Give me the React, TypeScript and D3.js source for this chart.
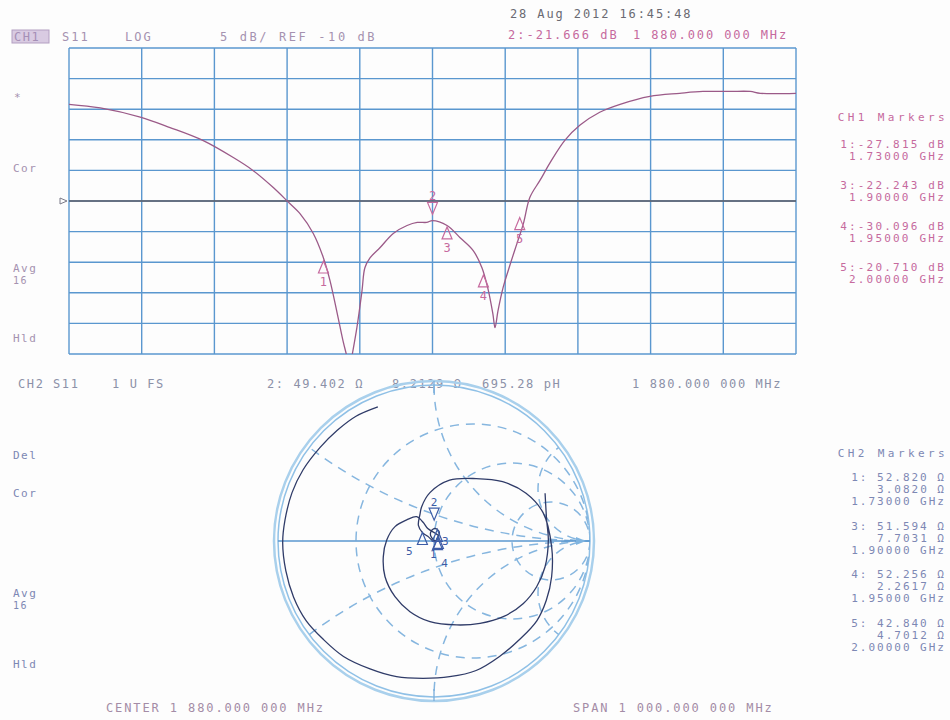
import React from "react";
import * as d3 from "d3";

// CH1: S11 log magnitude, frequency in MHz, level in dB
const ch1Freq = [
  1380, 1423, 1478, 1519, 1564, 1606, 1633, 1661, 1681, 1698, 1716, 1730, 1739, 1749, 1757, 1762,
  1766, 1769, 1776, 1783, 1787, 1794, 1808, 1826, 1845, 1859, 1872, 1880, 1900, 1918, 1936, 1948,
  1956, 1963, 1966, 1970, 1977, 1987, 1996, 2005, 2014, 2028, 2042, 2062, 2083, 2110, 2138, 2179,
  2220, 2252, 2289, 2317, 2331, 2380,
];
const ch1Db = [
  -2.7, -3.3, -4.8, -6.5, -8.6, -11.4, -13.5, -16.3, -18.6, -20.6, -23.8, -27.8, -31.5, -36.9, -41.4, -43.8,
  -46.0, -44.0, -39.2, -33.2, -29.4, -27.8, -26.1, -23.8, -22.5, -22.0, -22.0, -21.7, -22.5, -24.5, -26.6, -29.4,
  -32.7, -36.9, -39.2, -36.5, -32.7, -28.8, -25.5, -22.2, -17.9, -15.1, -12.2, -8.6, -6.1, -4.0, -2.7, -1.4,
  -0.9, -0.6, -0.6, -0.6, -0.9, -0.9,
];
const ch1Marker = ["1", "2", "3", "4", "5"];
const ch1MarkerFreq = [1730, 1880, 1900, 1950, 2000];
const ch1MarkerDb = [-27.815, -21.666, -22.243, -30.096, -20.71];
const ch1MarkerText = ["1:-27.815 dB", "3:-22.243 dB", "4:-30.096 dB", "5:-20.710 dB"];
const markerFreqText = ["1.73000 GHz", "1.90000 GHz", "1.95000 GHz", "2.00000 GHz"];

// CH2: S11 on the Smith chart, reflection coefficient (re, im)
const smithRe = [
  0.712, 0.722, 0.733, 0.712, 0.658, 0.573, 0.444, 0.295, 0.145, -0.026, -0.154, -0.25, -0.314, -0.325,
  -0.303, -0.25, -0.175, -0.111, -0.07, -0.04, 0.03, 0.01, -0.02, -0.02, 0.0, 0.02, 0.035, 0.022, 0.005,
  -0.04, -0.074, -0.1, -0.09, -0.079, -0.026, 0.1, 0.27, 0.44, 0.59, 0.7, 0.754, 0.754, 0.72, 0.66, 0.55,
  0.42, 0.27, 0.1, -0.07, -0.24, -0.41, -0.58, -0.71, -0.82, -0.9, -0.95, -0.97, -0.955, -0.91, -0.84,
  -0.73, -0.62, -0.5, -0.36,
];
const smithIm = [
  0.306, 0.135, 0.006, -0.165, -0.293, -0.4, -0.485, -0.528, -0.538, -0.517, -0.453, -0.357, -0.229, -0.1,
  0.006, 0.092, 0.135, 0.156, 0.12, 0.08, 0.03, 0.0, 0.03, 0.06, 0.08, 0.075, 0.05, 0.022, -0.005,
  0.03, 0.054, 0.1, 0.17, 0.22, 0.31, 0.39, 0.4, 0.38, 0.306, 0.18, -0.036, -0.229, -0.38, -0.51, -0.63,
  -0.74, -0.83, -0.87, -0.88, -0.87, -0.82, -0.74, -0.63, -0.51, -0.36, -0.19, -0.01, 0.135, 0.31, 0.455,
  0.6, 0.71, 0.8, 0.86,
];
const ch2Marker = ["1", "2", "3", "4", "5"];
const ch2MarkerR = [52.82, 49.402, 51.594, 52.256, 42.84];
const ch2MarkerX = [3.082, 8.2129, 7.7031, 2.2617, 4.7012];
const ch2MarkerText = [
  ["1: 52.820 Ω", "3.0820 Ω"],
  ["3: 51.594 Ω", "7.7031 Ω"],
  ["4: 52.256 Ω", "2.2617 Ω"],
  ["5: 42.840 Ω", "4.7012 Ω"],
];
const smithR = [1 / 3, 1, 3];
const smithX = [1 / 3, 1, 3, -1 / 3, -1, -3];

const mono = "'DejaVu Sans Mono', monospace";
const gridBlue = "#5a97cf";
const pink = "#c66a9e";
const lilac = "#a592b0";
const blueText = "#7d88b4";

// label offsets for the crowded Smith markers (dx, dy from the point)
const ch2LabelDx = [-5, 0, 8, 7, -13];
const ch2LabelDy = [22, -22, 16, 29, 22];

const App = () => {
  // top chart
  const x = d3.scaleLinear().domain([1380, 2380]).range([69, 796]);
  const y = d3.scaleLinear().domain([-43.5, 6.5]).range([354, 48]);
  const xTicks = d3.range(1380, 2381, 100);
  const yTicks = d3.range(-43.5, 6.6, 5);
  const line = d3
    .line<number>()
    .x((_, i) => x(ch1Freq[i]))
    .y((d) => y(d))
    .curve(d3.curveCatmullRom);

  // smith chart
  const cx = 434, cy = 541, R = 156;
  const sx = d3.scaleLinear().domain([-1, 1]).range([cx - R, cx + R]);
  const sy = d3.scaleLinear().domain([-1, 1]).range([cy + R, cy - R]);
  const smithLine = d3
    .line<number>()
    .x((d) => sx(d))
    .y((_, i) => sy(smithIm[i]))
    .curve(d3.curveCatmullRom);
  const gamma = (r: number, xx: number) => {
    // (z-1)/(z+1) with z = (r + jx)/50
    const a = r / 50, b = xx / 50;
    const den = (a + 1) * (a + 1) + b * b;
    return [(a * a + b * b - 1) / den, (2 * b) / den];
  };

  const up = (px: number, py: number) => `M${px},${py}L${px - 5},${py + 12}L${px + 5},${py + 12}Z`;
  const down = (px: number, py: number) => `M${px},${py}L${px - 5},${py - 12}L${px + 5},${py - 12}Z`;

  return (
    <svg
      width={950}
      height={720}
      style={{ position: "absolute", left: 0, top: 0, background: "#fdfdfd" }}
      fontFamily={mono}
    >
      <defs>
        <clipPath id="plotClip">
          <rect x={69} y={48} width={727} height={306} />
        </clipPath>
        <clipPath id="smithClip">
          <circle cx={cx} cy={cy} r={R} />
        </clipPath>
      </defs>

      {/* header */}
      <text x={510} y={18} fontSize={12} fill="#6a6a72" letterSpacing={1.9}>
        28 Aug 2012  16:45:48
      </text>
      <rect x={12} y={30} width={37} height={13} fill="#d9cbe2" stroke="#b39fc2" />
      <text x={14} y={41} fontSize={12} fill="#a58fb6" letterSpacing={1.5}>CH1</text>
      <text x={62} y={41} fontSize={12} fill={lilac} letterSpacing={2}>S11</text>
      <text x={125} y={41} fontSize={12} fill={lilac} letterSpacing={2}>LOG</text>
      <text x={220} y={41} fontSize={12} fill={lilac} letterSpacing={2.6}>5 dB/ REF -10 dB</text>
      <text x={508} y={39} fontSize={12} fill={pink} letterSpacing={2}>2:-21.666 dB</text>
      <text x={633} y={39} fontSize={12} fill={pink} letterSpacing={1.9}>1 880.000 000 MHz</text>

      {/* left status ch1 */}
      <g fontSize={11} fill={lilac} letterSpacing={1.5}>
        <text x={14} y={101}>*</text>
        <text x={13} y={172}>Cor</text>
        <text x={13} y={272}>Avg</text>
        <text x={13} y={284} fontSize={10}>16</text>
        <text x={13} y={342}>Hld</text>
      </g>

      {/* grid */}
      <g stroke={gridBlue} strokeWidth={1.4}>
        {xTicks.map((t) => (
          <line key={"gx" + t} x1={x(t)} x2={x(t)} y1={48} y2={354} />
        ))}
        {yTicks.map((t) => (
          <line key={"gy" + t} x1={69} x2={796} y1={y(t)} y2={y(t)} />
        ))}
      </g>
      {/* reference line */}
      <line x1={69} x2={796} y1={y(-18.5)} y2={y(-18.5)} stroke="#5d5d66" strokeWidth={1.3} />
      <path d={`M60,${y(-18.5) - 3}L67,${y(-18.5)}L60,${y(-18.5) + 3}Z`} fill="none" stroke="#7a7a88" />

      {/* trace */}
      <path d={line(ch1Db) || ""} fill="none" stroke="#9b5a88" strokeWidth={1.3} clipPath="url(#plotClip)" />

      {/* ch1 markers */}
      <g fill="none" stroke={pink} strokeWidth={1.2}>
        {ch1Marker.map((m, i) => {
          const px = x(ch1MarkerFreq[i]);
          const py = y(ch1MarkerDb[i]);
          return m === "2" ? (
            <path key={m} d={down(px, py - 6)} />
          ) : (
            <path key={m} d={up(px, py + 3)} />
          );
        })}
      </g>
      <g fill={pink} fontSize={12} textAnchor="middle">
        {ch1Marker.map((m, i) => {
          const px = x(ch1MarkerFreq[i]);
          const py = y(ch1MarkerDb[i]);
          return (
            <text key={m} x={px} y={m === "2" ? py - 20 : py + 28}>
              {m}
            </text>
          );
        })}
      </g>

      {/* ch1 marker table */}
      <g fontSize={11} fill={pink} textAnchor="end" letterSpacing={2.2}>
        <text x={948} y={121} letterSpacing={3.4}>CH1 Markers</text>
        {ch1MarkerText.map((t, i) => (
          <g key={t}>
            <text x={946} y={148 + i * 41}>{t}</text>
            <text x={946} y={160 + i * 41}>{markerFreqText[i]}</text>
          </g>
        ))}
      </g>

      {/* ch2 header */}
      <g fontSize={12} fill="#8c91a8" letterSpacing={1.6}>
        <text x={18} y={388}>CH2</text>
        <text x={53} y={388}>S11</text>
        <text x={112} y={388}>1 U FS</text>
        <text x={267} y={388}>2: 49.402 Ω</text>
        <text x={392} y={388}>8.2129 Ω</text>
        <text x={482} y={388}>695.28 pH</text>
        <text x={632} y={388}>1 880.000 000 MHz</text>
      </g>

      {/* left status ch2 */}
      <g fontSize={11} fill={blueText} letterSpacing={1.5}>
        <text x={13} y={459}>Del</text>
        <text x={13} y={497}>Cor</text>
        <text x={13} y={597}>Avg</text>
        <text x={13} y={609} fontSize={10}>16</text>
        <text x={13} y={668}>Hld</text>
      </g>

      {/* smith chart */}
      <circle cx={cx} cy={cy} r={R + 4} fill="none" stroke="#a9d0ec" strokeWidth={2.5} />
      <circle cx={cx} cy={cy} r={R} fill="none" stroke="#8fc0e6" strokeWidth={1.5} />
      <g clipPath="url(#smithClip)" fill="none" stroke="#86b6df" strokeWidth={1.5} strokeDasharray="9,7">
        {smithR.map((r) => (
          <circle key={"r" + r} cx={sx(r / (r + 1))} cy={cy} r={R / (r + 1)} />
        ))}
        {smithX.map((v) => (
          <circle key={"x" + v} cx={sx(1)} cy={sy(1 / v)} r={R / Math.abs(v)} />
        ))}
      </g>
      <line x1={cx - R} x2={cx + R} y1={cy} y2={cy} stroke="#5a97cf" strokeWidth={1.3} />
      <line x1={cx} x2={cx} y1={cy - R - 4} y2={cy - R + 8} stroke="#7aaedb" strokeWidth={1.3} />
      <line x1={cx} x2={cx} y1={cy + R - 8} y2={cy + R + 4} stroke="#7aaedb" strokeWidth={1.3} />
      <path d={`M${cx + R - 14},${cy - 4}L${cx + R - 4},${cy}L${cx + R - 14},${cy + 4}Z`} fill="#7fb4e0" />

      <path d={smithLine(smithRe) || ""} fill="none" stroke="#2f3b68" strokeWidth={1.3} />

      {/* ch2 markers */}
      <g fill="none" stroke="#3c5ca6" strokeWidth={1.2}>
        {ch2Marker.map((m, i) => {
          const [gr, gi] = gamma(ch2MarkerR[i], ch2MarkerX[i]);
          const px = sx(gr), py = sy(gi);
          return m === "2" ? <path key={m} d={down(px, py - 8)} /> : <path key={m} d={up(px, py)} />;
        })}
      </g>
      <g fill="#3c5ca6" fontSize={11} textAnchor="middle">
        {ch2Marker.map((m, i) => {
          const [gr, gi] = gamma(ch2MarkerR[i], ch2MarkerX[i]);
          const px = sx(gr), py = sy(gi);
          return (
            <text key={m} x={px + ch2LabelDx[i]} y={py + ch2LabelDy[i]}>
              {m}
            </text>
          );
        })}
      </g>

      {/* ch2 marker table */}
      <g fontSize={11} fill={blueText} textAnchor="end" letterSpacing={2}>
        <text x={948} y={457} letterSpacing={3.4}>CH2 Markers</text>
        {ch2MarkerText.map((t, i) => (
          <g key={t[0]}>
            <text x={946} y={481 + i * 48.5}>{t[0]}</text>
            <text x={946} y={493 + i * 48.5}>{t[1]}</text>
            <text x={946} y={505 + i * 48.5}>{markerFreqText[i]}</text>
          </g>
        ))}
      </g>

      {/* footer */}
      <g fontSize={12} fill="#a48ca6" letterSpacing={1.9}>
        <text x={106} y={712}>CENTER 1 880.000 000 MHz</text>
        <text x={573} y={712}>SPAN 1 000.000 000 MHz</text>
      </g>
    </svg>
  );
};

export default App;
